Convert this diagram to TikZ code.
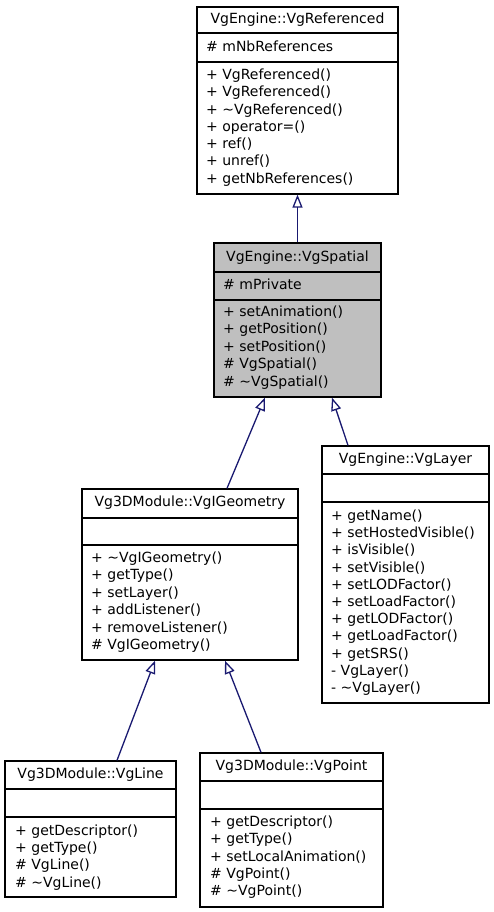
\documentclass[tikz,border=0pt]{standalone}
\usepackage{fontspec}
\setmainfont{DejaVu Sans}
\usepackage{xcolor}
\usetikzlibrary{arrows.meta}
\definecolor{edgeblue}{HTML}{191970}
\definecolor{boxgray}{HTML}{BFBFBF}

\begin{document}
\begin{tikzpicture}[x=1pt,y=-1pt,
		every node/.style={font=\fontsize{14}{17}\selectfont},
		cls/.style={draw=black,line width=1.3pt,inner sep=0pt},
		lbl/.style={inner sep=0pt,text height=10pt,text depth=3pt},
		mem/.style={lbl,anchor=west},
		sep/.style={line width=1.3pt},
		inherit/.style={color=edgeblue,line width=1.3pt,-{Triangle[open,length=13pt,width=10pt]}}]
		\useasboundingbox (0,0) rectangle (493,912);
		%
		\node[cls,minimum width=201pt,minimum height=187pt] (ref) at (297.5,100.5) {};
		\draw[sep] (ref.west |- 0,33) -- (ref.east |- 0,33);
		\draw[sep] (ref.west |- 0,62) -- (ref.east |- 0,62);
		\node[lbl] (ref-t) at (297.5,20) {VgEngine::VgReferenced};
		\node[mem] (ref-a) at (206,48) {\# mNbReferences};
		\foreach \m [count=\i] in {+ VgReferenced(),+ VgReferenced(),+ \textasciitilde VgReferenced(),
			+ operator=(),+ ref(),+ unref(),+ getNbReferences()}
			\node[mem] (ref-m\i) at (206,{76+17.3*(\i-1)}) {\m};
		%
		\node[cls,fill=boxgray,minimum width=167pt,minimum height=154pt] (spa) at (297.5,320) {};
		\draw[sep] (spa.west |- 0,272) -- (spa.east |- 0,272);
		\draw[sep] (spa.west |- 0,300) -- (spa.east |- 0,300);
		\node[lbl] (spa-t) at (297.5,258) {VgEngine::VgSpatial};
		\node[mem] (spa-a) at (223,286) {\# mPrivate};
		\foreach \m [count=\i] in {+ setAnimation(),+ getPosition(),+ setPosition(),
			\# VgSpatial(),\# \textasciitilde VgSpatial()}
			\node[mem] (spa-m\i) at (223,{313+17.4*(\i-1)}) {\m};
		%
		\node[cls,minimum width=216pt,minimum height=171pt] (geo) at (190,574.5) {};
		\draw[sep] (geo.west |- 0,518) -- (geo.east |- 0,518);
		\draw[sep] (geo.west |- 0,545) -- (geo.east |- 0,545);
		\node[lbl] (geo-t) at (190,503) {Vg3DModule::VgIGeometry};
		\foreach \m [count=\i] in {+ \textasciitilde VgIGeometry(),+ getType(),+ setLayer(),
			+ addListener(),+ removeListener(),\# VgIGeometry()}
			\node[mem] (geo-m\i) at (91,{559+17.4*(\i-1)}) {\m};
		%
		\node[cls,minimum width=167pt,minimum height=257pt] (lay) at (405.5,574.5) {};
		\draw[sep] (lay.west |- 0,474) -- (lay.east |- 0,474);
		\draw[sep] (lay.west |- 0,502) -- (lay.east |- 0,502);
		\node[lbl] (lay-t) at (405.5,460) {VgEngine::VgLayer};
		\foreach \m [count=\i] in {+ getName(),+ setHostedVisible(),+ isVisible(),+ setVisible(),
			+ setLODFactor(),+ setLoadFactor(),+ getLODFactor(),+ getLoadFactor(),
			+ getSRS(),- VgLayer(),- \textasciitilde VgLayer()}
			\node[mem] (lay-m\i) at (331,{517+17.2*(\i-1)}) {\m};
		%
		\node[cls,minimum width=171pt,minimum height=136pt] (lin) at (90.5,829) {};
		\draw[sep] (lin.west |- 0,789) -- (lin.east |- 0,789);
		\draw[sep] (lin.west |- 0,817) -- (lin.east |- 0,817);
		\node[lbl] (lin-t) at (90.5,775) {Vg3DModule::VgLine};
		\foreach \m [count=\i] in {+ getDescriptor(),+ getType(),\# VgLine(),\# \textasciitilde VgLine()}
			\node[mem] (lin-m\i) at (15,{832+17.2*(\i-1)}) {\m};
		%
		\node[cls,minimum width=183pt,minimum height=154pt] (pnt) at (291.5,830) {};
		\draw[sep] (pnt.west |- 0,781) -- (pnt.east |- 0,781);
		\draw[sep] (pnt.west |- 0,809) -- (pnt.east |- 0,809);
		\node[lbl] (pnt-t) at (291.5,767) {Vg3DModule::VgPoint};
		\foreach \m [count=\i] in {+ getDescriptor(),+ getType(),+ setLocalAnimation(),
			\# VgPoint(),\# \textasciitilde VgPoint()}
			\node[mem] (pnt-m\i) at (210,{823+17.3*(\i-1)}) {\m};
		%
		\path[inherit]
		(spa.north) edge (ref.south)
		([xshift=37pt]geo.north) edge ([xshift=-32.5pt]spa.south)
		([xshift=-57.5pt]lay.north) edge ([xshift=34.5pt]spa.south)
		([xshift=26.5pt]lin.north) edge ([xshift=-35pt]geo.south)
		([xshift=-30.5pt]pnt.north) edge ([xshift=35pt]geo.south);
	\end{tikzpicture}
\end{document}
